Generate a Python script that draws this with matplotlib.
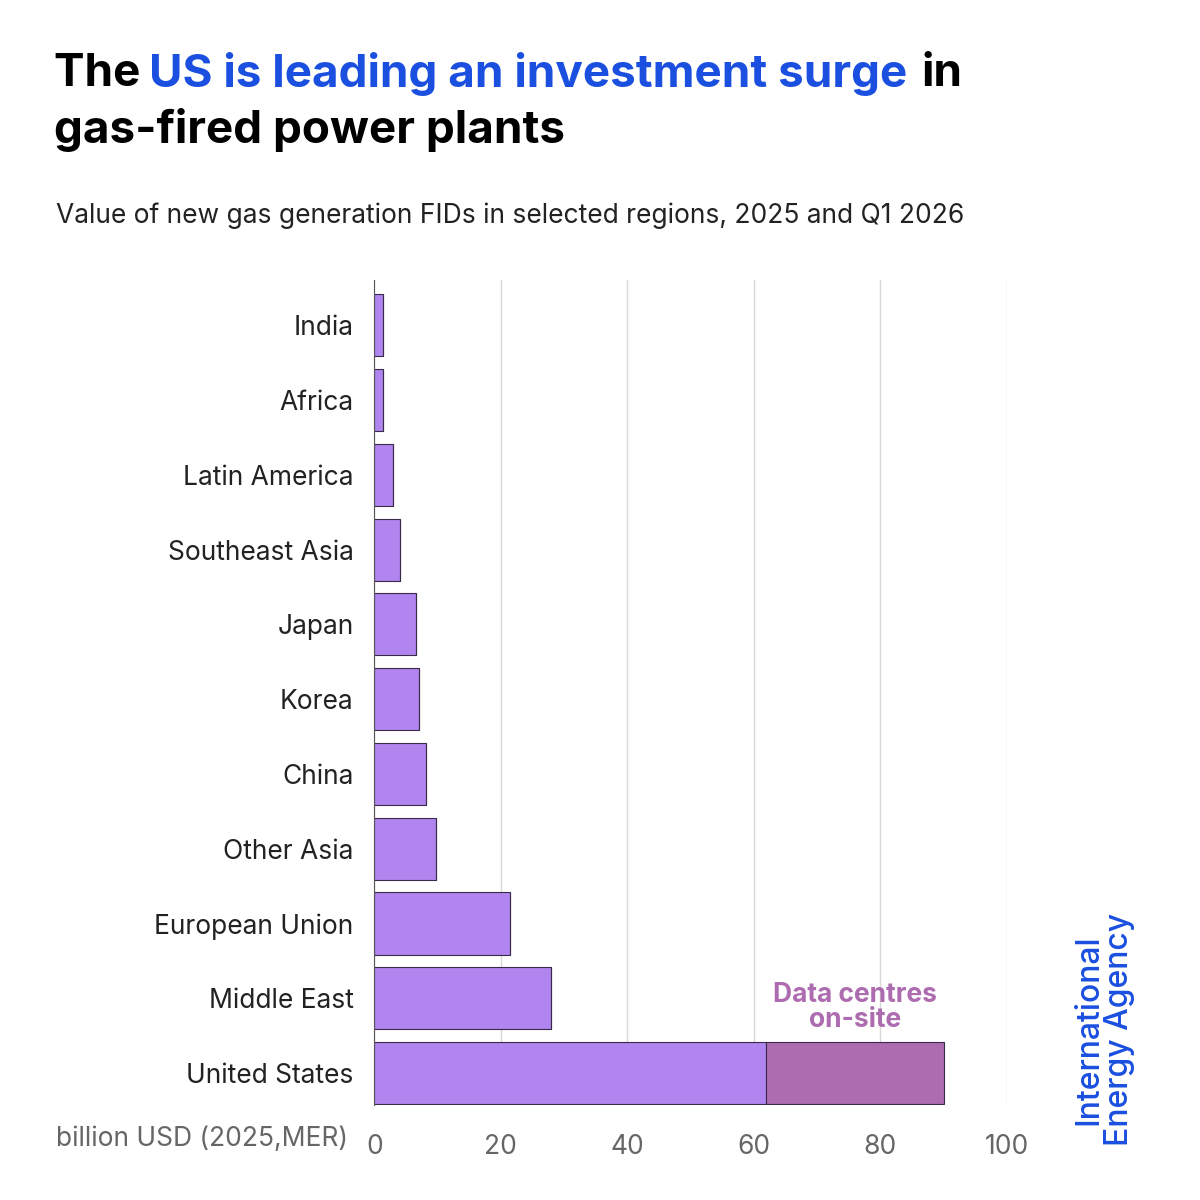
import matplotlib
matplotlib.use("Agg")
import matplotlib.pyplot as plt

regions = ["India", "Africa", "Latin America", "Southeast Asia", "Japan", "Korea",
           "China", "Other Asia", "European Union", "Middle East", "United States"]
values = [1.4, 1.4, 3.0, 4.1, 6.5, 7.0, 8.2, 9.8, 21.5, 28.0, 61.9]
datacentres = [0, 0, 0, 0, 0, 0, 0, 0, 0, 0, 28.1]
xticks = [0, 20, 40, 60, 80, 100]

plt.rcParams["font.family"] = ["Inter", "DejaVu Sans"]
fig = plt.figure(figsize=(12, 12), dpi=100)
ax = fig.add_axes([0.312, 0.079, 0.527, 0.688])

ypos = list(range(len(regions)))[::-1]
ax.barh(ypos, values, height=0.83, color="#b085f0", edgecolor="#3a2a4a", linewidth=0.8, zorder=3)
ax.barh(ypos, datacentres, left=values, height=0.83, color="#ad6bb0", edgecolor="#3a2a4a",
        linewidth=0.8, zorder=3)
ax.text(values[-1] + datacentres[-1] / 2, ypos[-1] + 0.88, "Data centres\non-site", ha="center",
        va="center", color="#ad6bb0", fontsize=19, fontweight="bold", linespacing=0.95)

ax.set_xlim(0, 100)
ax.set_ylim(-0.43, 10.61)
ax.set_xticks(xticks)
ax.set_yticks(ypos)
ax.set_yticklabels(regions, fontsize=19, color="#222222")
ax.tick_params(axis="x", labelsize=19, colors="#666666", length=0, pad=21)
ax.tick_params(axis="y", length=0, pad=15)
ax.grid(axis="x", color="#d8d8d8", linewidth=1, zorder=0)
for s in ["top", "right", "bottom"]:
    ax.spines[s].set_visible(False)
ax.spines["left"].set_color("#555555")
ax.spines["left"].set_zorder(4)

fig.text(0.047, 0.051, "billion USD (2025,MER)", fontsize=19, color="#666666", va="center")

fig.text(0.045, 0.938, "The ", fontsize=33, fontweight="bold", color="black", va="center")
fig.text(0.124, 0.938, "US is leading an investment surge", fontsize=33, fontweight="bold",
         color="#1a4fe0", va="center")
fig.text(0.768, 0.938, "in", fontsize=33, fontweight="bold", color="black", va="center")
fig.text(0.045, 0.892, "gas-fired power plants", fontsize=33, fontweight="bold", color="black",
         va="center")
fig.text(0.047, 0.82, "Value of new gas generation FIDs in selected regions, 2025 and Q1 2026",
         fontsize=19, color="#222222", va="center")

fig.text(0.92, 0.045, "International\nEnergy Agency", rotation=90, fontsize=23, color="#1a4fe0",
         fontweight="medium", ha="center", va="bottom", linespacing=1.0)

fig.savefig("out.png", dpi=100, facecolor="white")
